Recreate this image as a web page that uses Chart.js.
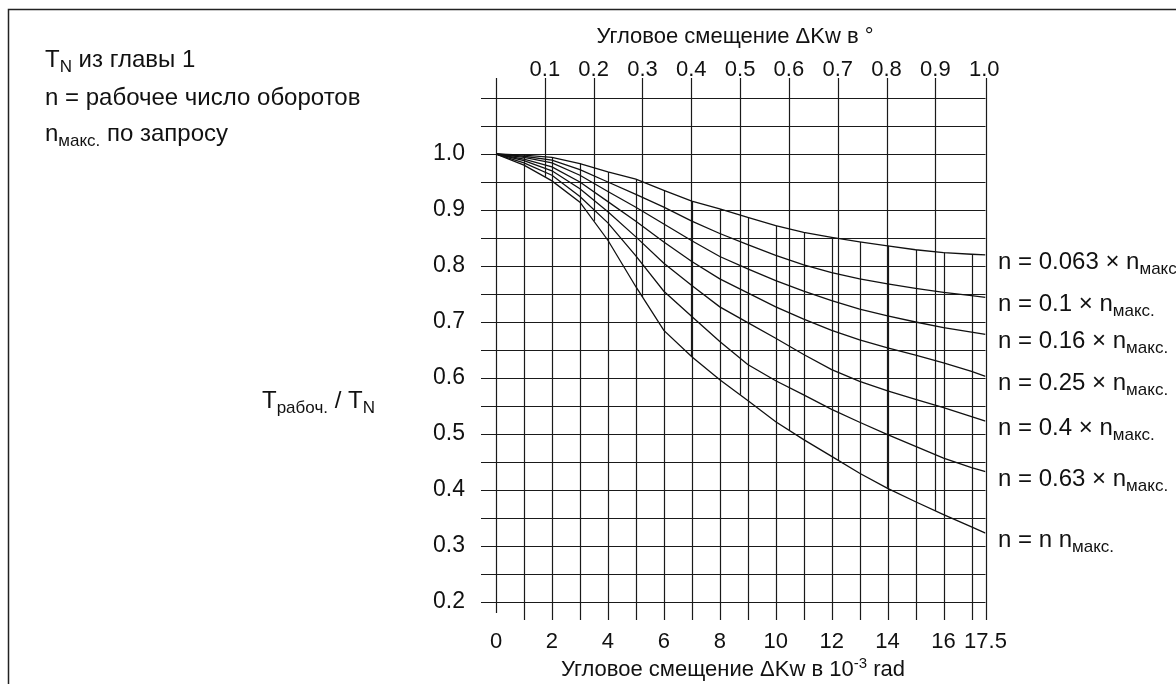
<!DOCTYPE html>
<html>
<head>
<meta charset="utf-8">
<script src="https://cdn.jsdelivr.net/npm/chart.js@4.4.1/dist/chart.umd.min.js"></script>
<style>
html,body{margin:0;padding:0;background:#fff;}
#wrap{width:1176px;height:684px;}
</style>
</head>
<body>
<div id="wrap"><canvas id="c" width="1176" height="684"></canvas></div>
<script>
// ---- data ----
const xValues = [0,1,2,3,4,5,6,7,8,9,10,11,12,13,14,15,16,17,17.5];
const n0063 = [1.000,0.998,0.994,0.983,0.968,0.955,0.935,0.916,0.902,0.887,0.872,0.860,0.851,0.843,0.836,0.829,0.824,0.821,0.820];
const n010  = [1.000,0.996,0.989,0.972,0.950,0.928,0.905,0.880,0.858,0.838,0.819,0.802,0.788,0.777,0.768,0.760,0.753,0.747,0.744];
const n016  = [1.000,0.994,0.984,0.962,0.933,0.905,0.875,0.845,0.817,0.795,0.774,0.755,0.738,0.723,0.711,0.700,0.690,0.682,0.678];
const n025  = [1.000,0.991,0.977,0.950,0.915,0.880,0.843,0.808,0.777,0.752,0.727,0.705,0.685,0.668,0.654,0.641,0.627,0.612,0.603];
const n040  = [1.000,0.988,0.970,0.938,0.897,0.852,0.805,0.765,0.727,0.699,0.671,0.642,0.615,0.594,0.577,0.562,0.547,0.531,0.523];
const n063  = [1.000,0.984,0.962,0.924,0.877,0.818,0.755,0.710,0.665,0.624,0.595,0.570,0.544,0.521,0.499,0.478,0.457,0.440,0.433];
const nMax  = [1.000,0.980,0.952,0.914,0.846,0.763,0.685,0.638,0.597,0.560,0.522,0.490,0.460,0.430,0.403,0.379,0.356,0.334,0.323];
const seriesList = [n0063, n010, n016, n025, n040, n063, nMax];
const seriesFactors = ['0.063 \u00d7 n', '0.1 \u00d7 n', '0.16 \u00d7 n', '0.25 \u00d7 n', '0.4 \u00d7 n', '0.63 \u00d7 n', 'n n'];
const bottomTicks = [0,2,4,6,8,10,12,14,16,17.5];
const mradGrid = [0,1,2,3,4,5,6,7,8,9,10,11,12,13,14,15,16,17,17.5];
const degTicks = [0.1,0.2,0.3,0.4,0.5,0.6,0.7,0.8,0.9,1.0];
const yTicks = [0.2,0.3,0.4,0.5,0.6,0.7,0.8,0.9,1.0];
const yGrid = [0.2,0.25,0.3,0.35,0.4,0.45,0.5,0.55,0.6,0.65,0.7,0.75,0.8,0.85,0.9,0.95,1.0,1.05,1.1];
const notes = ['из главы 1', 'n = рабочее число оборотов', 'по запросу'];
const MRAD_PER_DEG = Math.PI / 180 * 1000;

// ---- style ----
const FONT = '"Liberation Sans", Arial, Helvetica, sans-serif';
const MAIN = '22px ' + FONT;
const SUB = '15px ' + FONT;
const BIG = '24px ' + FONT;
const BIGSUB = '17px ' + FONT;
const INK = '#111';
const GRID = '#1a1a1a';

function interp(xs, ys, x) {
  for (let i = 0; i < xs.length - 1; i++) {
    if (x >= xs[i] && x <= xs[i + 1]) {
      const t = (x - xs[i]) / (xs[i + 1] - xs[i]);
      return ys[i] + t * (ys[i + 1] - ys[i]);
    }
  }
  return ys[ys.length - 1];
}

function richWidth(ctx, parts, big) {
  let w = 0;
  parts.forEach(p => { ctx.font = (p.sub || p.sup) ? (big ? BIGSUB : SUB) : (big ? BIG : MAIN); w += ctx.measureText(p.t).width; });
  return w;
}
function drawRich(ctx, x, y, parts, align, big) {
  let cx = x;
  if (align === 'center') cx = x - richWidth(ctx, parts, big) / 2;
  ctx.textAlign = 'left';
  ctx.textBaseline = 'alphabetic';
  parts.forEach(p => {
    ctx.font = (p.sub || p.sup) ? (big ? BIGSUB : SUB) : (big ? BIG : MAIN);
    const dy = p.sub ? (big ? 5 : 5) : (p.sup ? -8 : 0);
    ctx.fillText(p.t, cx, y + dy);
    cx += ctx.measureText(p.t).width;
  });
}

const gridPlugin = {
  id: 'customGrid',
  beforeDatasetsDraw(chart) {
    const ctx = chart.ctx, xs = chart.scales.x, x2 = chart.scales.x2, ys = chart.scales.y;
    const ca = chart.chartArea;
    const line = (a, b, c, d) => { ctx.beginPath(); ctx.moveTo(a, b); ctx.lineTo(c, d); ctx.stroke(); };
    ctx.save();
    ctx.strokeStyle = GRID;
    ctx.lineWidth = 1.2;
    const x0 = xs.getPixelForValue(0), xEnd = xs.getPixelForValue(17.5);
    yGrid.forEach(v => {
      const py = Math.round(ys.getPixelForValue(v)) + 0.5;
      line(x0 - 15, py, xEnd, py);
    });
    const top = n0063, bot = nMax;
    mradGrid.forEach(m => {
      const px = Math.round(xs.getPixelForValue(m)) + 0.5;
      let yTop;
      if (m === 0 || m === 17.5) yTop = ca.top - 20;
      else yTop = ys.getPixelForValue(interp(xValues, top, m));
      const yBot = (m === 0) ? ca.bottom + 11 : ca.bottom + 18;
      line(px, yBot, px, yTop);
    });
    degTicks.forEach(d => {
      if (d >= 1.0) return;
      const px = Math.round(x2.getPixelForValue(d)) + 0.5;
      const m = d * MRAD_PER_DEG;
      const yB = ys.getPixelForValue(interp(xValues, bot, m));
      line(px, ca.top - 20, px, yB);
    });
    ctx.restore();
  },
  afterDraw(chart) {
    const ctx = chart.ctx, ys = chart.scales.y;
    ctx.save();
    ctx.fillStyle = INK;
    // frame
    ctx.strokeStyle = '#222';
    ctx.lineWidth = 1.5;
    ctx.beginPath(); ctx.moveTo(8.5, 684); ctx.lineTo(8.5, 9.5); ctx.lineTo(1176, 9.5); ctx.stroke();
    // notes
    drawRich(ctx, 45, 67, [{t: 'T'}, {t: 'N', sub: true}, {t: ' ' + notes[0]}], 'left', true);
    drawRich(ctx, 45, 105, [{t: notes[1]}], 'left', true);
    drawRich(ctx, 45, 141, [{t: 'n'}, {t: 'макс.', sub: true}, {t: ' ' + notes[2]}], 'left', true);
    // axis titles
    drawRich(ctx, 262, 408, [{t: 'T'}, {t: 'рабоч.', sub: true}, {t: ' / T'}, {t: 'N', sub: true}], 'left', true);
    drawRich(ctx, 735, 43, [{t: 'Угловое смещение \u0394Kw в \u00b0'}], 'center');
    drawRich(ctx, 733, 676, [{t: 'Угловое смещение \u0394Kw в 10'}, {t: '-3', sup: true}, {t: ' rad'}], 'center');
    // series labels
    seriesList.forEach((s, i) => {
      const py = ys.getPixelForValue(s[s.length - 1]) + 14;
      drawRich(ctx, 998, py, [{t: 'n = ' + seriesFactors[i]}, {t: 'макс.', sub: true}], 'left', true);
    });
    ctx.restore();
  }
};

const datasets = seriesList.map((s, i) => ({
  label: seriesFactors[i],
  data: xValues.map((x, j) => ({x: x, y: s[j]})),
  borderColor: INK,
  borderWidth: 1.3,
  pointRadius: 0,
  tension: 0,
  fill: false
}));

new Chart(document.getElementById('c'), {
  type: 'line',
  data: { datasets },
  options: {
    responsive: false,
    animation: false,
    devicePixelRatio: 1,
    layout: { padding: { left: 0, right: 190.5, top: 0, bottom: 0 } },
    plugins: { legend: { display: false }, tooltip: { enabled: false }, title: { display: false } },
    scales: {
      x: {
        type: 'linear', position: 'bottom', min: 0, max: 17.5,
        grid: { display: false, drawTicks: false }, border: { display: false },
        afterBuildTicks: ax => { ax.ticks = bottomTicks.map(v => ({value: v})); },
        afterFit: ax => { ax.height = 82; },
        ticks: { color: INK, font: { family: FONT, size: 22 }, padding: 27, maxRotation: 0, autoSkip: false,
                 callback: v => String(v) }
      },
      x2: {
        type: 'linear', position: 'top', min: 0, max: 17.5 / MRAD_PER_DEG,
        grid: { display: false, drawTicks: false }, border: { display: false },
        afterBuildTicks: ax => { ax.ticks = degTicks.map(v => ({value: v})); },
        afterFit: ax => { ax.height = 98; },
        ticks: { color: INK, font: { family: FONT, size: 22 }, padding: 15, maxRotation: 0, autoSkip: false,
                 callback: v => v.toFixed(1) }
      },
      y: {
        type: 'linear', min: 0.2, max: 1.1,
        grid: { display: false, drawTicks: false }, border: { display: false },
        afterBuildTicks: ax => { ax.ticks = yTicks.map(v => ({value: v})); },
        afterFit: ax => { ax.width = 496; },
        ticks: { color: INK, font: { family: FONT, size: 23 }, padding: 31, callback: v => v.toFixed(1) }
      }
    }
  },
  plugins: [gridPlugin]
});
</script>
</body>
</html>
